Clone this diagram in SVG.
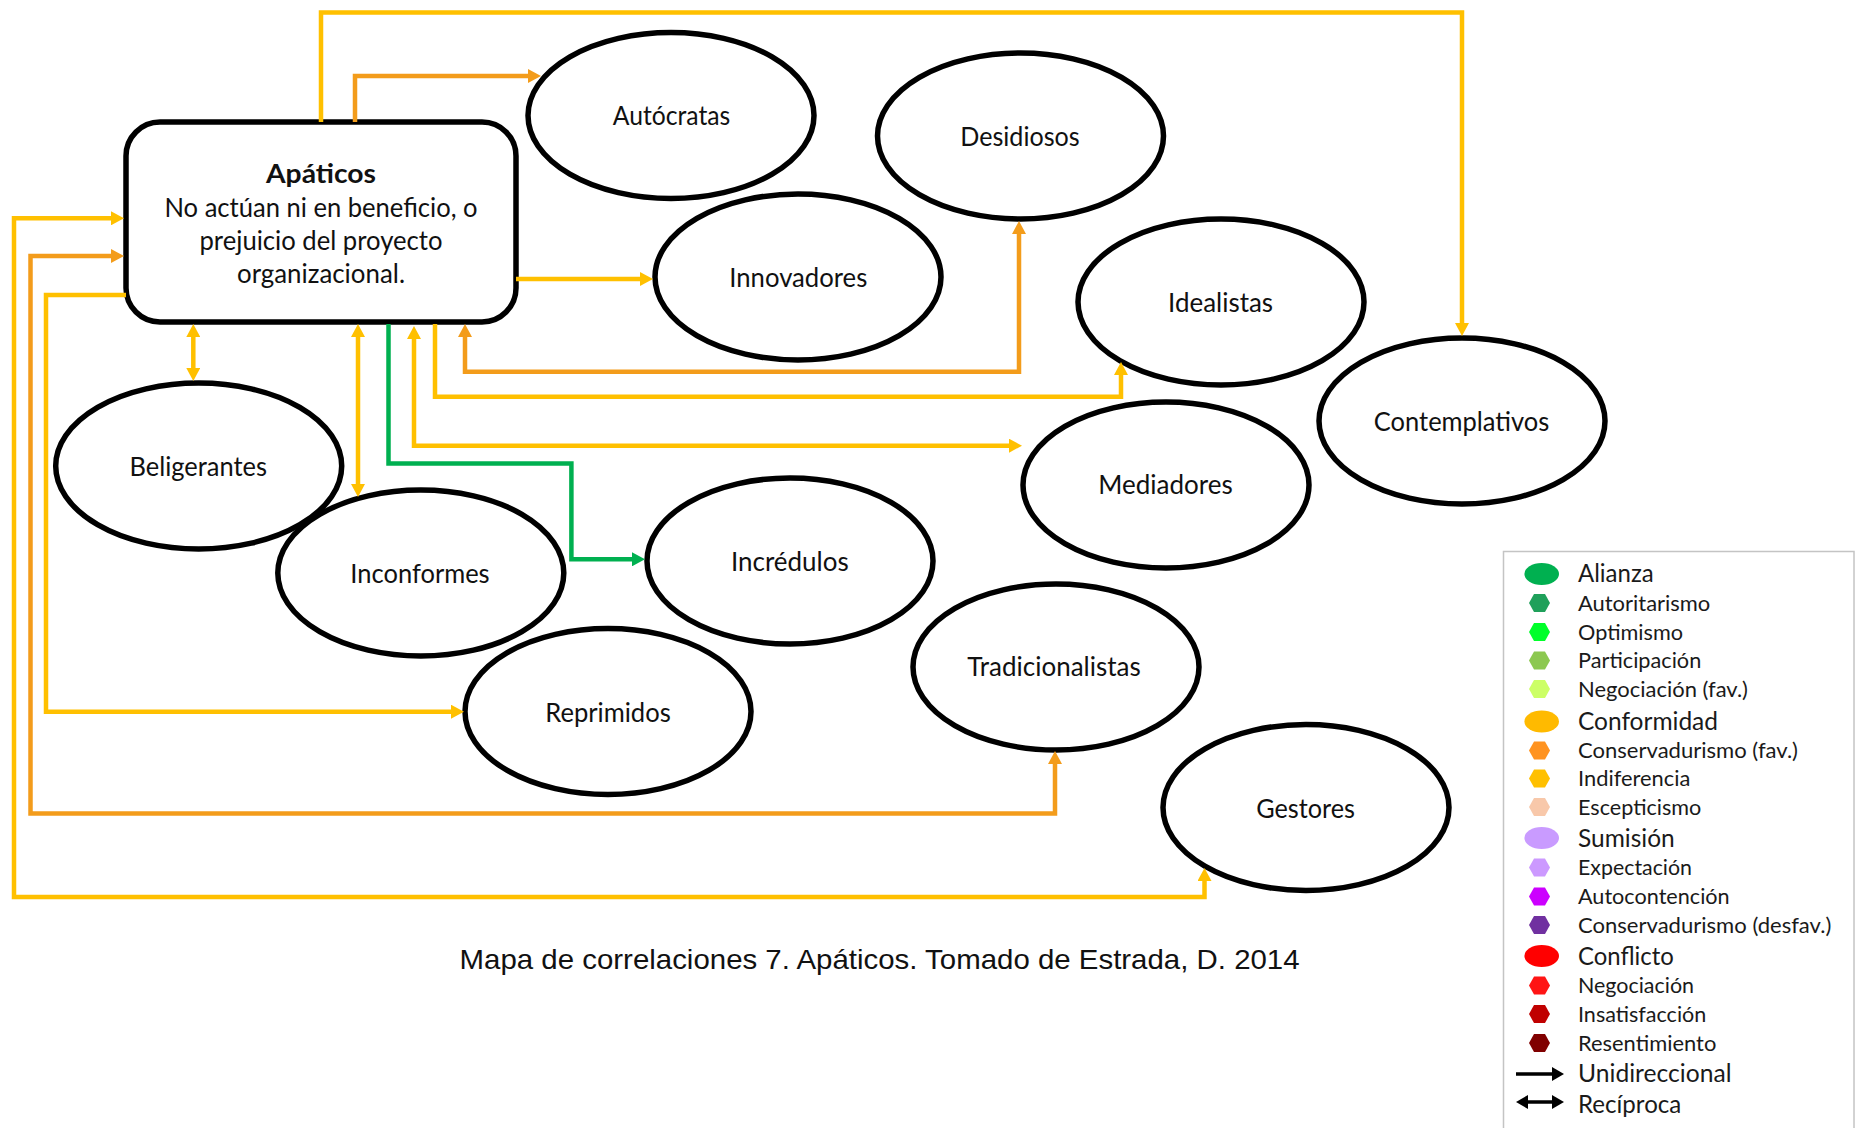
<svg xmlns="http://www.w3.org/2000/svg" width="1864" height="1128" viewBox="0 0 1864 1128">
  <style>
    .node ellipse { fill: #ffffff; stroke: #000000; stroke-width: 5.5; }
    .node rect { fill: #ffffff; stroke: #000000; stroke-width: 5.5; }
    .lbl { font-family: Lato, "Liberation Sans", sans-serif; font-size: 26.5px; fill: #111111; text-anchor: middle; }
    .ttl { font-weight: bold; }
    .con { fill: none; stroke-width: 4.5; stroke-linejoin: miter; }
    .y { stroke: #FFC000; }
    .o { stroke: #F39C1B; }
    .g { stroke: #00B050; }
    .cap { font-family: "Liberation Sans", Arial, sans-serif; font-size: 28px; fill: #111111; }
    .lg { font-family: Lato, "Liberation Sans", sans-serif; fill: #1a1a1a; }
    .big { font-size: 25px; }
    .sm { font-size: 20.5px; }
  </style>
  <defs>
    <marker id="hy" viewBox="0 0 13 14" refX="3" refY="7" markerWidth="13" markerHeight="14" markerUnits="userSpaceOnUse" orient="auto-start-reverse">
      <path d="M0,0 L13,7 L0,14 z" fill="#FFC000"/>
    </marker>
    <marker id="ho" viewBox="0 0 13 14" refX="3" refY="7" markerWidth="13" markerHeight="14" markerUnits="userSpaceOnUse" orient="auto-start-reverse">
      <path d="M0,0 L13,7 L0,14 z" fill="#F39C1B"/>
    </marker>
    <marker id="hg" viewBox="0 0 13 14" refX="3" refY="7" markerWidth="13" markerHeight="14" markerUnits="userSpaceOnUse" orient="auto-start-reverse">
      <path d="M0,0 L13,7 L0,14 z" fill="#00B050"/>
    </marker>
    <marker id="hk" viewBox="0 0 12 14" refX="2" refY="7" markerWidth="12" markerHeight="14" markerUnits="userSpaceOnUse" orient="auto-start-reverse">
      <path d="M0,0 L12,7 L0,14 z" fill="#000000"/>
    </marker>
    <polygon id="hex" points="-10.5,0 -5.5,-9 5.5,-9 10.5,0 5.5,9 -5.5,9"/>
  </defs>

  <rect width="1864" height="1128" fill="#ffffff"/>

  <!-- nodes -->
  <g id="apaticos" class="node">
    <rect x="126" y="122" width="390" height="200" rx="34" ry="34"/>
    <text class="lbl ttl" x="321" y="182.7" textLength="110" lengthAdjust="spacingAndGlyphs">Apáticos</text>
    <text class="lbl" x="321" y="216.7" textLength="313" lengthAdjust="spacingAndGlyphs">No actúan ni en beneficio, o</text>
    <text class="lbl" x="321" y="249.5" textLength="243" lengthAdjust="spacingAndGlyphs">prejuicio del proyecto</text>
    <text class="lbl" x="321" y="283" textLength="168" lengthAdjust="spacingAndGlyphs">organizacional.</text>
  </g>
  <g id="autocratas" class="node">
    <ellipse cx="671" cy="115.5" rx="143" ry="83"/>
    <text class="lbl" x="671.5" y="125" textLength="117.5" lengthAdjust="spacingAndGlyphs">Autócratas</text>
  </g>
  <g id="desidiosos" class="node">
    <ellipse cx="1020.5" cy="136" rx="143" ry="83"/>
    <text class="lbl" x="1020" y="145.5" textLength="119.5" lengthAdjust="spacingAndGlyphs">Desidiosos</text>
  </g>
  <g id="innovadores" class="node">
    <ellipse cx="798" cy="277" rx="143" ry="83"/>
    <text class="lbl" x="798.3" y="286.7" textLength="138" lengthAdjust="spacingAndGlyphs">Innovadores</text>
  </g>
  <g id="idealistas" class="node">
    <ellipse cx="1221" cy="302" rx="143" ry="83"/>
    <text class="lbl" x="1220.6" y="312" textLength="105" lengthAdjust="spacingAndGlyphs">Idealistas</text>
  </g>
  <g id="contemplativos" class="node">
    <ellipse cx="1462" cy="421" rx="143" ry="83"/>
    <text class="lbl" x="1461.6" y="431" textLength="175.5" lengthAdjust="spacingAndGlyphs">Contemplativos</text>
  </g>
  <g id="mediadores" class="node">
    <ellipse cx="1166" cy="485" rx="143" ry="83"/>
    <text class="lbl" x="1165.5" y="494" textLength="134.5" lengthAdjust="spacingAndGlyphs">Mediadores</text>
  </g>
  <g id="beligerantes" class="node">
    <ellipse cx="198.7" cy="466" rx="143" ry="83"/>
    <text class="lbl" x="198.2" y="475.5" textLength="137.5" lengthAdjust="spacingAndGlyphs">Beligerantes</text>
  </g>
  <g id="inconformes" class="node">
    <ellipse cx="420.8" cy="573" rx="143" ry="83"/>
    <text class="lbl" x="420" y="583" textLength="139.3" lengthAdjust="spacingAndGlyphs">Inconformes</text>
  </g>
  <g id="incredulos" class="node">
    <ellipse cx="790" cy="561" rx="143" ry="83"/>
    <text class="lbl" x="789.8" y="570.7" textLength="117.7" lengthAdjust="spacingAndGlyphs">Incrédulos</text>
  </g>
  <g id="tradicionalistas" class="node">
    <ellipse cx="1056" cy="667" rx="143" ry="83"/>
    <text class="lbl" x="1054" y="675.5" textLength="173.4" lengthAdjust="spacingAndGlyphs">Tradicionalistas</text>
  </g>
  <g id="reprimidos" class="node">
    <ellipse cx="608" cy="711.5" rx="143" ry="83"/>
    <text class="lbl" x="608" y="721.5" textLength="125.5" lengthAdjust="spacingAndGlyphs">Reprimidos</text>
  </g>
  <g id="gestores" class="node">
    <ellipse cx="1306" cy="807.5" rx="143" ry="83"/>
    <text class="lbl" x="1305.6" y="817.5" textLength="98.7" lengthAdjust="spacingAndGlyphs">Gestores</text>
  </g>

  <!-- connectors -->
  <g id="connectors">
    <path class="con y" d="M321,122 V12.5 H1462 V326" marker-end="url(#hy)"/>
    <path class="con o" d="M355,122 V76 H531" marker-end="url(#ho)"/>
    <path class="con y" d="M516,279 H643" marker-end="url(#hy)"/>
    <path class="con o" d="M465,334 V371.7 H1019 V231" marker-start="url(#ho)" marker-end="url(#ho)"/>
    <path class="con y" d="M435,324 V396.7 H1121 V372" marker-end="url(#hy)"/>
    <path class="con y" d="M414,336 V445.7 H1012" marker-start="url(#hy)" marker-end="url(#hy)"/>
    <path class="con g" d="M388.5,324 V463.5 H571.4 V559.3 H635" marker-end="url(#hg)"/>
    <path class="con y" d="M358,334 V487" marker-start="url(#hy)" marker-end="url(#hy)"/>
    <path class="con y" d="M193.3,334 V371" marker-start="url(#hy)" marker-end="url(#hy)"/>
    <path class="con y" d="M126,295 H46 V711.7 H454" marker-end="url(#hy)"/>
    <path class="con o" d="M114,256 H30.5 V813.5 H1055 V761" marker-start="url(#ho)" marker-end="url(#ho)"/>
    <path class="con y" d="M114,218.3 H14 V897 H1204.5 V878" marker-start="url(#hy)" marker-end="url(#hy)"/>
  </g>

  <!-- caption -->
  <text class="cap" x="459.6" y="969.3" textLength="840" lengthAdjust="spacingAndGlyphs">Mapa de correlaciones 7. Apáticos. Tomado de Estrada, D. 2014</text>

  <!-- legend -->
  <g id="legend">
    <rect x="1503.5" y="551.5" width="350.5" height="600" fill="#ffffff" stroke="#c4c4c4" stroke-width="1.5"/>
    <ellipse cx="1541.7" cy="574" rx="17.3" ry="11" fill="#00B050"/>
    <use href="#hex" x="1539.5" y="603" fill="#1FA05A"/>
    <use href="#hex" x="1539.5" y="632" fill="#00FF2A"/>
    <use href="#hex" x="1539.5" y="660.5" fill="#8CC850"/>
    <use href="#hex" x="1539.5" y="689" fill="#CCFF66"/>
    <ellipse cx="1541.7" cy="721.5" rx="17.3" ry="11" fill="#FFBA00"/>
    <use href="#hex" x="1539.5" y="750.5" fill="#FF9320"/>
    <use href="#hex" x="1539.5" y="778.5" fill="#FFC000"/>
    <use href="#hex" x="1539.5" y="807" fill="#F8C8AA"/>
    <ellipse cx="1541.7" cy="838" rx="17.3" ry="11" fill="#C99BFF"/>
    <use href="#hex" x="1539.5" y="867.5" fill="#CC99FF"/>
    <use href="#hex" x="1539.5" y="896.5" fill="#CC00FF"/>
    <use href="#hex" x="1539.5" y="925" fill="#7030A0"/>
    <ellipse cx="1541.7" cy="956" rx="17.3" ry="11" fill="#FF0000"/>
    <use href="#hex" x="1539.5" y="985.5" fill="#FF1414"/>
    <use href="#hex" x="1539.5" y="1014" fill="#C00000"/>
    <use href="#hex" x="1539.5" y="1043" fill="#800000"/>
    <path d="M1516,1074 H1554" stroke="#000000" stroke-width="3.5" marker-end="url(#hk)"/>
    <path d="M1526,1102 H1554" stroke="#000000" stroke-width="3.5" marker-start="url(#hk)" marker-end="url(#hk)"/>

    <text class="lg big" x="1578" y="582" textLength="75.7" lengthAdjust="spacingAndGlyphs">Alianza</text>
    <text class="lg sm" x="1578" y="610.5" textLength="132.3" lengthAdjust="spacingAndGlyphs">Autoritarismo</text>
    <text class="lg sm" x="1578" y="639.5" textLength="105" lengthAdjust="spacingAndGlyphs">Optimismo</text>
    <text class="lg sm" x="1578" y="667.5" textLength="123.3" lengthAdjust="spacingAndGlyphs">Participación</text>
    <text class="lg sm" x="1578" y="696.5" textLength="170" lengthAdjust="spacingAndGlyphs">Negociación (fav.)</text>
    <text class="lg big" x="1578" y="729.5" textLength="140" lengthAdjust="spacingAndGlyphs">Conformidad</text>
    <text class="lg sm" x="1578" y="758" textLength="220" lengthAdjust="spacingAndGlyphs">Conservadurismo (fav.)</text>
    <text class="lg sm" x="1578" y="786" textLength="112.3" lengthAdjust="spacingAndGlyphs">Indiferencia</text>
    <text class="lg sm" x="1578" y="814.5" textLength="123.3" lengthAdjust="spacingAndGlyphs">Escepticismo</text>
    <text class="lg big" x="1578" y="846.5" textLength="96.7" lengthAdjust="spacingAndGlyphs">Sumisión</text>
    <text class="lg sm" x="1578" y="875" textLength="114" lengthAdjust="spacingAndGlyphs">Expectación</text>
    <text class="lg sm" x="1578" y="904" textLength="151.7" lengthAdjust="spacingAndGlyphs">Autocontención</text>
    <text class="lg sm" x="1578" y="932.5" textLength="253.3" lengthAdjust="spacingAndGlyphs">Conservadurismo (desfav.)</text>
    <text class="lg big" x="1578" y="964.5" textLength="95.7" lengthAdjust="spacingAndGlyphs">Conflicto</text>
    <text class="lg sm" x="1578" y="993" textLength="116" lengthAdjust="spacingAndGlyphs">Negociación</text>
    <text class="lg sm" x="1578" y="1021.5" textLength="128.3" lengthAdjust="spacingAndGlyphs">Insatisfacción</text>
    <text class="lg sm" x="1578" y="1050.5" textLength="138.3" lengthAdjust="spacingAndGlyphs">Resentimiento</text>
    <text class="lg big" x="1578" y="1082" textLength="153.5" lengthAdjust="spacingAndGlyphs">Unidireccional</text>
    <text class="lg big" x="1578" y="1112.5" textLength="103.3" lengthAdjust="spacingAndGlyphs">Recíproca</text>
  </g>
</svg>
